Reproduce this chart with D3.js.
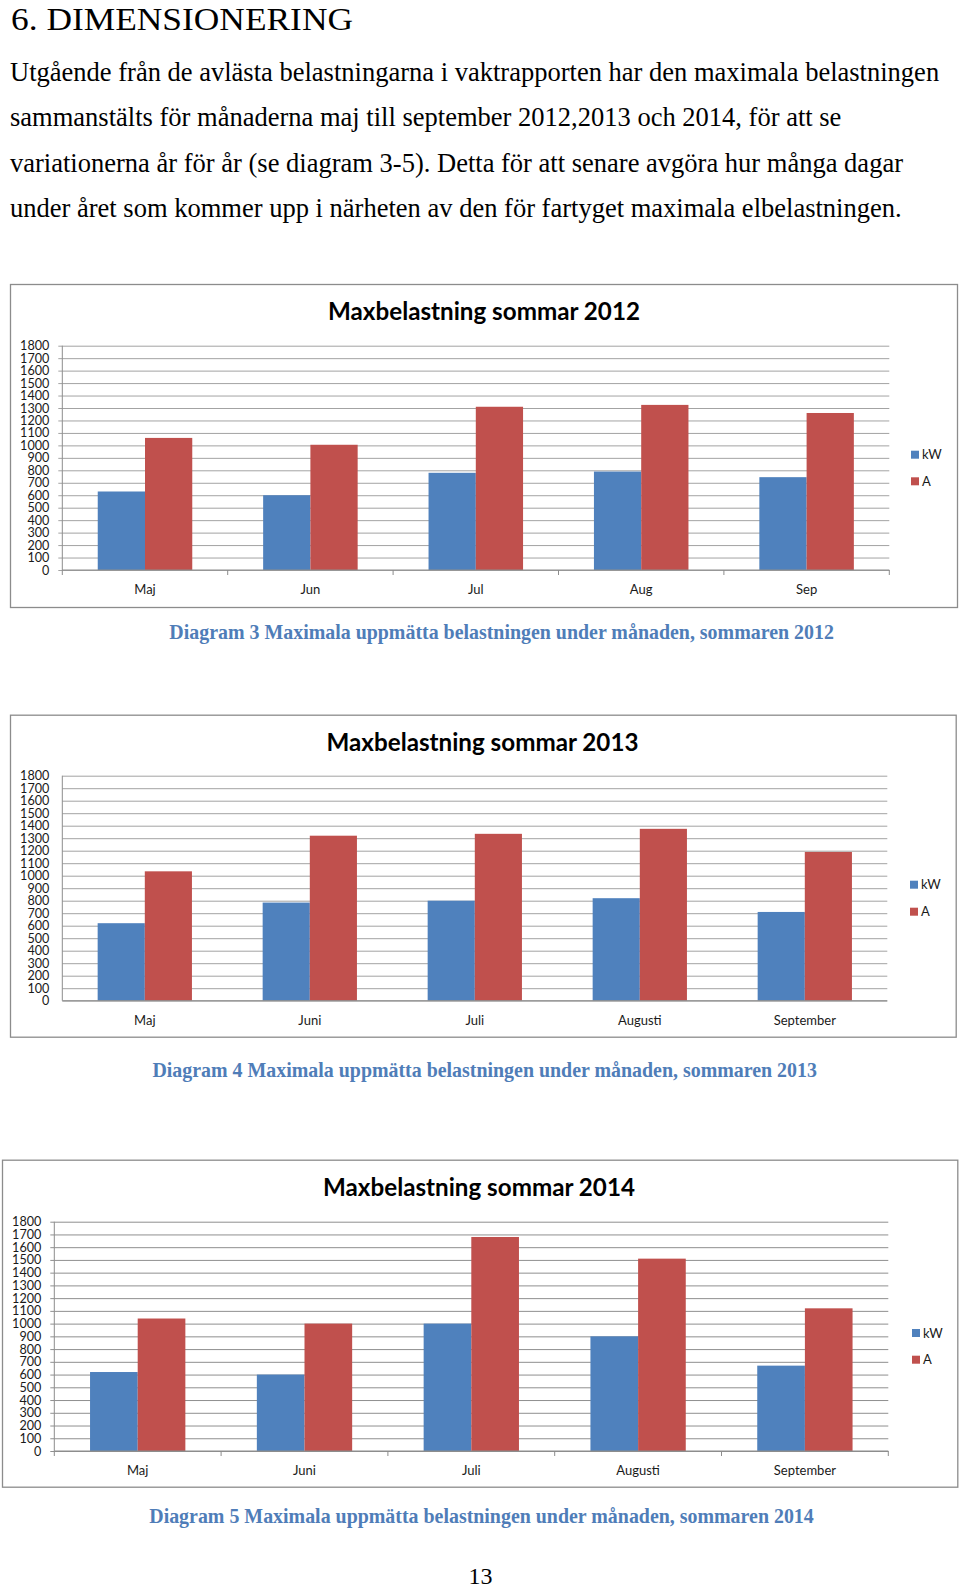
<!DOCTYPE html>
<html><head><meta charset="utf-8">
<script src="https://cdn.jsdelivr.net/npm/d3@7/dist/d3.min.js"></script>
<style>body{margin:0;background:#fff}</style>
</head><body>
<svg id="page" width="960" height="1589"></svg>
<script>
// ---------- text ----------
const heading = "6. DIMENSIONERING";
const bodyLines = [
  "Utgående från de avlästa belastningarna i vaktrapporten har den maximala belastningen",
  "sammanstälts för månaderna maj till september 2012,2013 och 2014, för att se",
  "variationerna år för år (se diagram 3-5). Detta för att senare avgöra hur många dagar",
  "under året som kommer upp i närheten av den för fartyget maximala elbelastningen."
];
const chartTitles = ["Maxbelastning sommar 2012", "Maxbelastning sommar 2013", "Maxbelastning sommar 2014"];
const captions = [
  "Diagram 3 Maximala uppmätta belastningen under månaden, sommaren 2012",
  "Diagram 4 Maximala uppmätta belastningen under månaden, sommaren 2013",
  "Diagram 5 Maximala uppmätta belastningen under månaden, sommaren 2014"
];
const pageNumber = "13";

// ---------- data ----------
const seriesNames = ["kW", "A"];
const yTicks = [0,100,200,300,400,500,600,700,800,900,1000,1100,1200,1300,1400,1500,1600,1700,1800];

const categories2012 = ["Maj", "Jun", "Jul", "Aug", "Sep"];
const kW2012 = [630, 600, 780, 790, 745];
const A2012  = [1060, 1005, 1310, 1325, 1260];

const categories2013 = ["Maj", "Juni", "Juli", "Augusti", "September"];
const kW2013 = [620, 785, 800, 820, 710];
const A2013  = [1035, 1320, 1335, 1375, 1190];

const categories2014 = ["Maj", "Juni", "Juli", "Augusti", "September"];
const kW2014 = [620, 600, 1000, 900, 670];
const A2014  = [1040, 1000, 1680, 1510, 1120];

const colors = ["#4F81BD", "#C0504D"];

// ---------- layout (not data) ----------
const layouts = [
  {frame:[10,284,957,607], plot:[62.3,345.7,889.3,570], titleX:484, titleY:320, legendX:911, legendY:[454.7,481.3], xLabelDy:24, ticks:true, grid:"#a3a3a3"},
  {frame:[10,714.7,955.7,1036.7], plot:[62.3,775.7,887.3,1000.7], titleX:482.5, titleY:750.5, legendX:910, legendY:[884.7,911.7], xLabelDy:24, ticks:false, grid:"#a3a3a3"},
  {frame:[2,1159.7,957.3,1486.7], plot:[54.3,1221.7,888.3,1451], titleX:479, titleY:1195.5, legendX:912, legendY:[1333,1359.7], xLabelDy:23.5, ticks:true, grid:"#8f8f8f"}
];
const captionPos = [[501.6,638.6],[484.7,1076.6],[481.5,1522.6]];

const charts = [
  {cats:categories2012, series:[kW2012, A2012]},
  {cats:categories2013, series:[kW2013, A2013]},
  {cats:categories2014, series:[kW2014, A2014]}
];

const svg = d3.select("#page");
svg.append("rect").attr("width",960).attr("height",1589).attr("fill","#fff");

function fitSize(sel, target){
  const w = sel.node().getComputedTextLength();
  const fs = parseFloat(sel.attr("font-size"));
  const nfs = fs*target/w;
  sel.attr("font-size", nfs);
  return nfs;
}

const serif = "'Liberation Serif','Times New Roman',serif";
const sans = "Lato, 'Open Sans', sans-serif";

// heading
svg.append("text").attr("x",11).attr("y",29.5).attr("font-family",serif)
  .attr("font-size",32).attr("fill","#000")
  .attr("textLength",342).attr("lengthAdjust","spacingAndGlyphs").text(heading);

// body
const bodyY = [80.5, 126, 171.5, 217];
const bl = svg.selectAll("text.body").data(bodyLines).join("text").attr("class","body")
  .attr("x",10).attr("y",(d,i)=>bodyY[i]).attr("font-family",serif).attr("font-size",24).attr("fill","#000").text(d=>d);
const bfs = fitSize(d3.select(bl.nodes()[0]), 930);
bl.attr("font-size", bfs);

charts.forEach((c, ci) => {
  const L = layouts[ci];
  const g = svg.append("g");
  const [fx0,fy0,fx1,fy1] = L.frame;
  g.append("rect").attr("x",fx0+0.5).attr("y",fy0+0.5).attr("width",fx1-fx0).attr("height",fy1-fy0)
    .attr("fill","#fff").attr("stroke","#8c8c8c").attr("stroke-width",1.3);

  const [px0,py0,px1,py1] = L.plot;
  const y = d3.scaleLinear().domain([0,1800]).range([py1,py0]);
  const p = 1.5/3.5;
  const x0 = d3.scaleBand().domain(c.cats).range([px0,px1]).paddingInner(p).paddingOuter(p/2);
  const x1 = d3.scaleBand().domain(seriesNames).range([0,x0.bandwidth()]);

  // gridlines + y labels via axis
  const yAxis = d3.axisLeft(y).tickValues(yTicks).tickSize(-(px1-px0)).tickPadding(13).tickFormat(d3.format("d"));
  const ya = g.append("g").attr("transform",`translate(${px0},0)`).call(yAxis);
  ya.select(".domain").remove();
  ya.selectAll(".tick line").attr("stroke",L.grid).attr("stroke-width",1);
  ya.selectAll(".tick text").attr("font-family",sans).attr("font-size",12.6).attr("fill","#1a1a1a");
  if (L.ticks) {
    ya.selectAll(".tick").append("line").attr("x1",-4).attr("x2",0).attr("stroke",L.grid);
  }
  // y axis line
  g.append("line").attr("x1",px0).attr("x2",px0).attr("y1",y(1800)).attr("y2",y(0)).attr("stroke","#8c8c8c");

  // bars
  const groups = g.selectAll("g.cat").data(c.cats).join("g").attr("class","cat")
    .attr("transform",d=>`translate(${x0(d)},0)`);
  groups.selectAll("rect").data((d,i)=>seriesNames.map((s,si)=>({s, v:c.series[si][i], si})))
    .join("rect")
    .attr("x",d=>x1(d.s)).attr("width",x1.bandwidth())
    .attr("y",d=>y(d.v)).attr("height",d=>y(0)-y(d.v))
    .attr("fill",d=>colors[d.si]);

  // x axis
  const step = x0.step();
  const xa = d3.axisBottom(x0).tickSize(0).tickPadding(L.xLabelDy);
  const xg = g.append("g").attr("transform",`translate(0,${py1})`).call(xa);
  xg.select(".domain").attr("stroke","#8c8c8c").attr("d",`M${px0},0H${px1}`);
  xg.selectAll(".tick text").attr("font-family",sans).attr("font-size",13).attr("fill","#1a1a1a").attr("dy",0);
  if (L.ticks) {
    const bounds = d3.range(c.cats.length+1).map(i => px0 + i*step);
    xg.selectAll("line.ct").data(bounds).join("line").attr("class","ct")
      .attr("x1",d=>d).attr("x2",d=>d).attr("y1",0).attr("y2",5).attr("stroke","#8c8c8c");
  }

  // title
  const t = g.append("text").attr("x",L.titleX).attr("y",L.titleY).attr("text-anchor","middle")
    .attr("font-family",sans).attr("font-weight","bold").attr("font-size",22).attr("fill","#000").text(chartTitles[ci]);
  fitSize(t, 312);

  // legend
  const lg = g.selectAll("g.leg").data(seriesNames).join("g").attr("class","leg")
    .attr("transform",(d,i)=>`translate(${L.legendX},${L.legendY[i]})`);
  lg.append("rect").attr("x",0).attr("y",-4).attr("width",8).attr("height",8).attr("fill",(d,i)=>colors[i]);
  lg.append("text").attr("x",11).attr("y",4.5).attr("font-family",sans).attr("font-size",13).attr("fill","#1a1a1a").text(d=>d);

  // caption
  const cp = svg.append("text").attr("x",captionPos[ci][0]).attr("y",captionPos[ci][1]).attr("text-anchor","middle")
    .attr("font-family",serif).attr("font-weight","bold").attr("font-size",20).attr("fill","#4F7DB8").text(captions[ci]);
  fitSize(cp, 665);
});

svg.append("text").attr("x",480.5).attr("y",1584).attr("text-anchor","middle").attr("font-family",serif)
  .attr("font-size",24).attr("fill","#000").text(pageNumber);
</script>
</body></html>
